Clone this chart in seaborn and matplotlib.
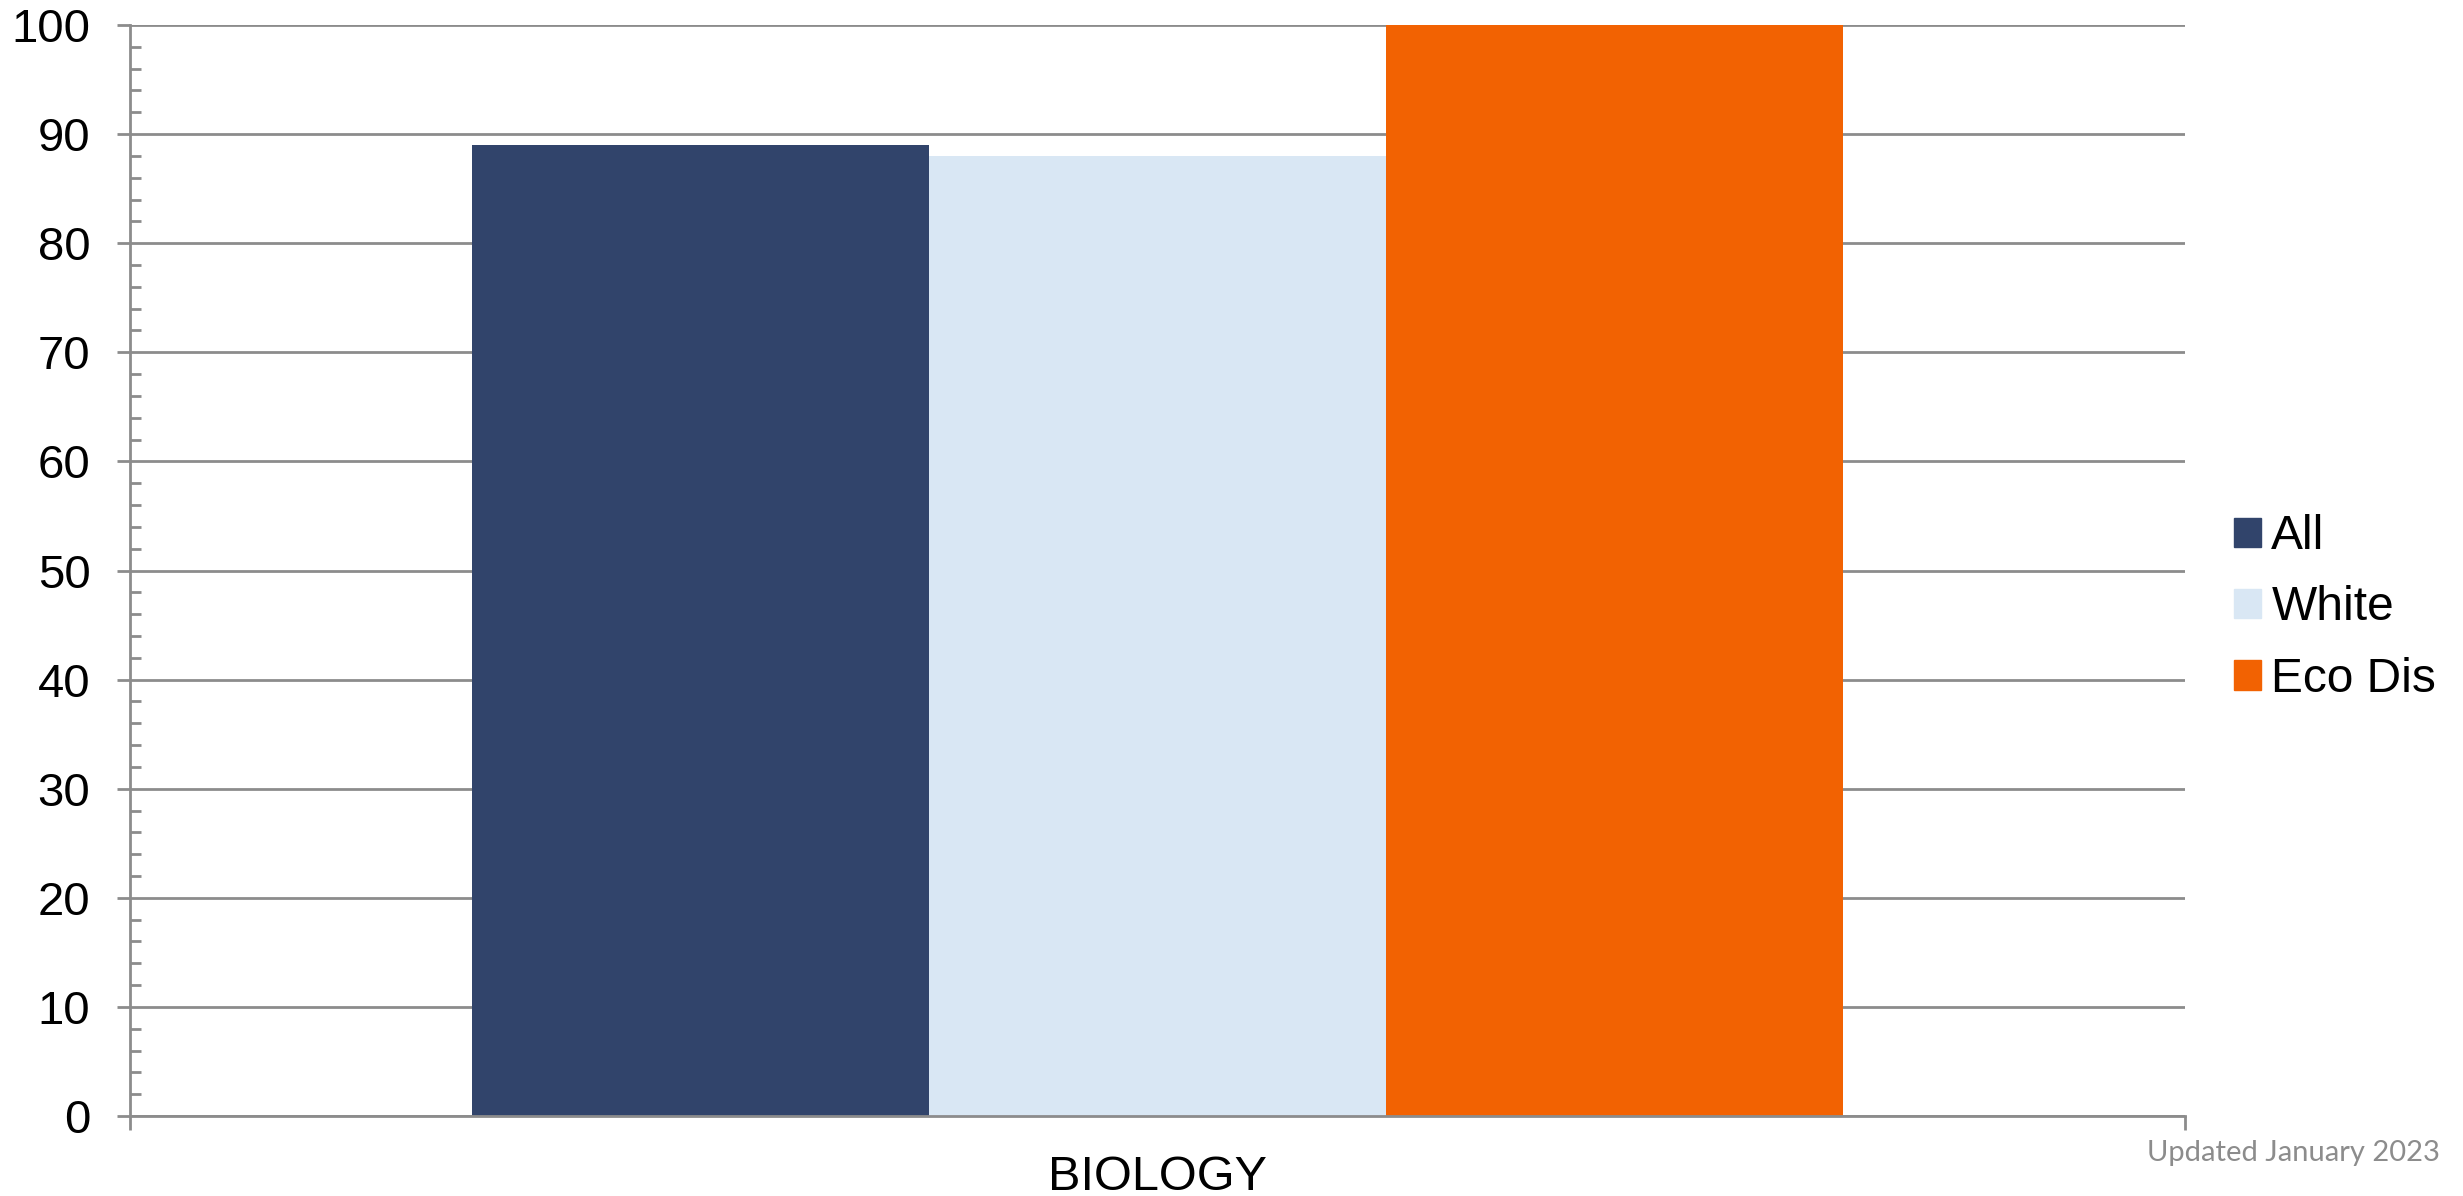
import pandas as pd
import matplotlib.pyplot as plt
import matplotlib.patches as mpatches
from matplotlib.ticker import MultipleLocator, FixedLocator
import seaborn as sns

# data
subjects = ["BIOLOGY"]
groups = ["All", "White", "Eco Dis"]
values = [89, 88, 100]
colors = ["#31446b", "#d9e7f4", "#f26202"]

df = pd.DataFrame({"subject": subjects * len(groups), "group": groups, "value": values})

sns.set_style("white")
plt.rcParams['font.family'] = ['Liberation Sans', 'DejaVu Sans']
plt.rcParams['text.color'] = 'black'
plt.rcParams['xtick.labelcolor'] = 'black'
plt.rcParams['ytick.labelcolor'] = 'black'

fig = plt.figure(figsize=(24.63, 11.96), dpi=100)
ax = fig.add_axes([130 / 2463, 1 - 1116 / 1196, 2055 / 2463, 1091 / 1196])

sns.barplot(data=df, x="subject", y="value", hue="group", palette=colors,
            width=0.667, saturation=1, linewidth=0, ax=ax, legend=False)

grey = "#8c8c8c"
ax.set_xlim(-0.5, 0.5)
ax.set_ylim(0, 100)
ax.yaxis.set_major_locator(MultipleLocator(10))
ax.yaxis.set_minor_locator(MultipleLocator(2))
ax.grid(axis="y", which="major", color=grey, linewidth=2)
ax.set_axisbelow(True)

for s in ["top", "right"]:
    ax.spines[s].set_visible(False)
for s in ["left", "bottom"]:
    ax.spines[s].set_color(grey)
    ax.spines[s].set_linewidth(2)

ax.tick_params(axis="y", which="major", direction="out", length=9.5, width=2,
               color=grey, labelsize=34, pad=19, left=True)
ax.tick_params(axis="y", which="minor", direction="in", length=8, width=2,
               color=grey, left=True)
ax.xaxis.set_minor_locator(FixedLocator([-0.5, 0.5]))
ax.tick_params(axis="x", which="major", length=0, labelsize=35, pad=28)
ax.tick_params(axis="x", which="minor", direction="out", length=10, width=2,
               color=grey, bottom=True)
ax.set_xlabel("")
ax.set_ylabel("")

handles = [mpatches.Patch(color=c, label=g) for g, c in zip(groups, colors)]
fig.legend(handles=handles, loc="center left", bbox_to_anchor=(2234 / 2463, 1 - 608 / 1196),
           frameon=False, fontsize=34.5, handlelength=0.56, handleheight=0.56,
           handletextpad=0.22, labelspacing=0.55, borderpad=0, borderaxespad=0)

fig.text(0.9907, 1 - 1153 / 1196, "Updated January 2023", color=grey,
         fontsize=21, family="Lato", ha="right", va="center")

fig.savefig("out.png", dpi=100)
